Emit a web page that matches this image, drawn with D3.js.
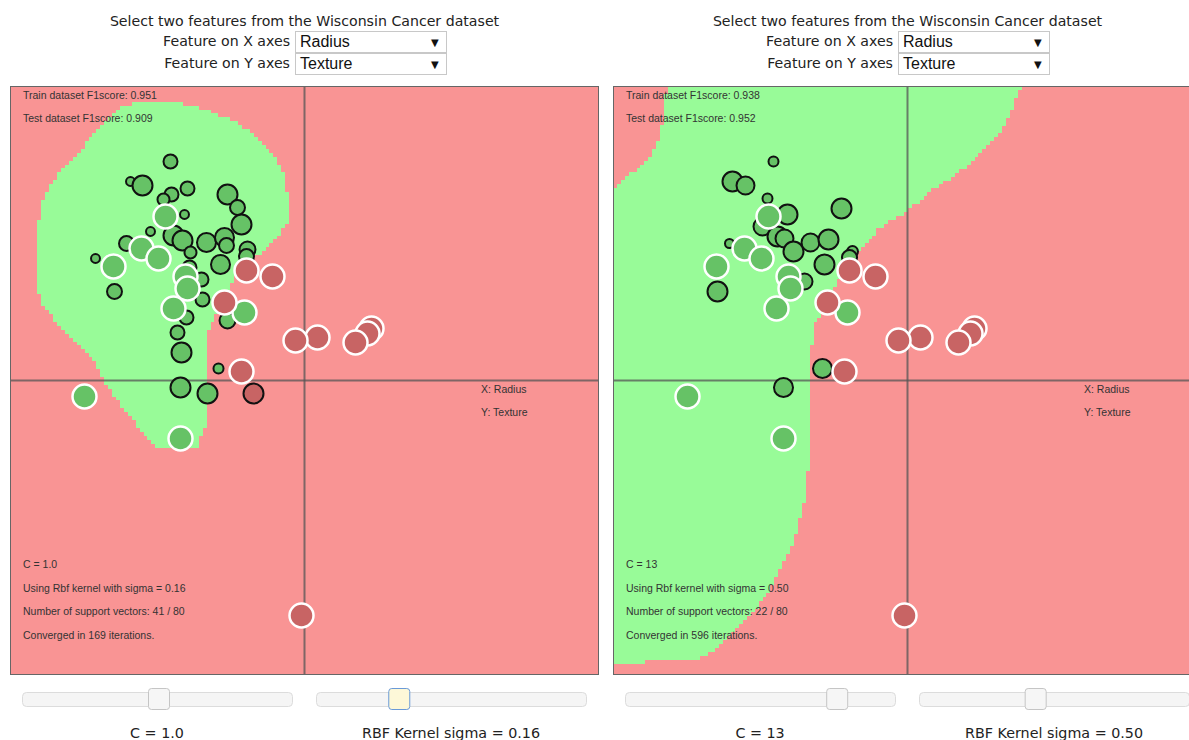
<!DOCTYPE html>
<html><head><meta charset="utf-8">
<script src="https://cdn.jsdelivr.net/npm/d3@7"></script>
<style>
html,body{margin:0;padding:0;background:#fff;}
svg{display:block;}
</style></head>
<body>
<svg id="chart" width="1189" height="740"></svg>
<script>
// ---------------- DATA ----------------
const features = ["Radius", "Texture"];
const headerText = "Select two features from the Wisconsin Cancer dataset";

// test points (shared by both panels): standardized feature values
const testX = [-1.39,-1.63,-1.46,-1.91,-1.19,-1.17,-1.31,-0.60,-2.20,-1.24,
               -0.58,-0.32,-0.80,-0.63, 0.13,-0.09, 0.67, 0.63, 0.51,-0.03];
const testY = [ 1.64, 1.32, 1.22, 1.14, 1.04, 0.92, 0.72, 0.68,-0.16,-0.58,
                1.10, 1.04, 0.78, 0.09, 0.43, 0.40, 0.52, 0.47, 0.38,-2.35];
const testClass = ["B","B","B","B","B","B","B","B","B","B",
                   "M","M","M","M","M","M","M","M","M","M"];

// panel 1 : C = 1.0, sigma = 0.16 — support vectors
const sv1X = [-1.34,-1.74,-1.62,-1.17,-1.33,-1.41,-0.77,-0.67,-1.20,-0.63,-1.54,-1.31,-1.22,-1.78,-0.98,-0.80,-0.78,-0.57,-0.58,-1.14,-2.09,-0.84,-1.90,-1.03,-1.15,-1.02,-1.18,-1.38,-0.77,-1.27,-1.23,-1.24,-0.97,-0.86,-0.51];
const sv1Y = [ 2.19, 1.99, 1.95, 1.92, 1.86, 1.81, 1.86, 1.73, 1.66, 1.56, 1.49, 1.45, 1.40, 1.37, 1.38, 1.43, 1.35, 1.31, 1.24, 1.28, 1.22, 1.16, 0.89, 1.01, 1.13, 0.81, 0.63, 0.74, 0.60, 0.48, 0.28,-0.07,-0.13, 0.12,-0.13];
const sv1Alpha = [0.57,0.21,1.00,0.57,0.57,0.43,1.00,0.64,0.21,1.00,0.21,1.00,1.00,0.64,0.93,0.93,0.64,0.71,0.64,0.43,0.21,0.93,0.64,0.57,0.57,0.57,0.57,0.21,0.71,0.57,1.00,1.00,1.00,0.29,1.00];
const sv1Class = ["B","B","B","B","B","B","B","B","B","B","B","B","B","B","B","B","B","B","B","B","B","B","B","B","B","B","B","B","B","B","B","B","B","B","M"];

// panel 2 : C = 13, sigma = 0.50 — support vectors
const sv2X = [-1.34,-1.75,-1.62,-1.40,-1.20,-0.66,-1.45,-1.30,-1.23,-1.78,-1.14,-0.97,-0.79,-0.55,-0.58,-0.83,-1.90,-1.03,-0.85,-1.24];
const sv2Y = [ 2.19, 1.99, 1.95, 1.82, 1.66, 1.72, 1.54, 1.44, 1.42, 1.37, 1.29, 1.38, 1.41, 1.29, 1.23, 1.16, 0.89, 0.99, 0.12,-0.07];
const sv2Alpha = [3.7,13,11.1,3.7,13,13,11.1,13,11.1,2.8,13,11.1,13,4.6,8.4,13,13,9.3,12.1,12.1];
const sv2Class = ["B","B","B","B","B","B","B","B","B","B","B","B","B","B","B","B","B","B","B","B"];

// decision region (class B area) outlines
const region1X = [-1.65,-1.35,-1.05,-0.75,-0.50,-0.30,-0.18,-0.17,-0.30,-0.47,-0.63,-0.73,-0.83,-0.95,-0.99,-1.00,-1.05,-1.07,-1.48,-1.55,-1.80,-1.98,-2.08,-2.20,-2.45,-2.63,-2.68,-2.68,-2.63,-2.50,-2.33,-2.15,-1.95,-1.80];
const region1Y = [ 2.80, 2.80, 2.73, 2.61, 2.46, 2.26, 2.03, 1.59, 1.41, 1.25, 1.16, 0.96, 0.76, 0.56, 0.46,-0.45,-0.55,-0.67,-0.67,-0.60,-0.30,-0.03, 0.16, 0.31, 0.56, 0.76, 1.01, 1.41, 1.76, 2.01, 2.21, 2.41, 2.63, 2.75];
const region2X = [-2.40, 1.16, 1.06, 0.93, 0.76, 0.60, 0.43, 0.23, 0.03,-0.08,-0.28,-0.48,-0.63,-0.78,-0.93,-0.96,-1.00,-1.00,-1.05,-1.18,-1.38,-1.63,-1.88,-2.08,-2.88,-3.00,-3.00,-2.75,-2.58,-2.48,-2.43];
const region2Y = [ 3.00, 3.00, 2.76, 2.49, 2.33, 2.16, 2.03, 1.89, 1.73, 1.65, 1.53, 1.31, 1.13, 0.84, 0.56, 0.36, 0.31,-0.90,-1.30,-1.70,-2.10,-2.40,-2.65,-2.78,-2.82,-2.82, 1.86, 2.08, 2.23, 2.41, 2.71];

const panelParams = [
  {C: 1.0, Clabel: "1.0", sigma: 0.16, sigmaLabel: "0.16", train: "0.951", test: "0.909", nsv: 41, total: 80, iters: 169},
  {C: 13, Clabel: "13", sigma: 0.50, sigmaLabel: "0.50", train: "0.938", test: "0.952", nsv: 22, total: 80, iters: 596}
];

// ---------------- DRAW ----------------
const svg = d3.select("#chart");
const size = 589;
const dom = [-2.945, 2.945];
const x = d3.scaleLinear().domain(dom).range([0, size]);
const y = d3.scaleLinear().domain(dom).range([size, 0]);
const colBg = {B: "#98fb98", M: "#f99494"};
const colPt = {B: "#66c266", M: "#c86464"};

const regions = [d3.zip(region1X, region1Y), d3.zip(region2X, region2Y)];
const svs = [
  d3.zip(sv1X, sv1Y, sv1Alpha, sv1Class),
  d3.zip(sv2X, sv2Y, sv2Alpha, sv2Class)
];
const tests = d3.zip(testX, testY, testClass);
const sliderScale = d3.scaleLog().domain([0.01, 100]).range([0, 1]);

const panelLeft = [10, 613];
const N = 150;
const step = (dom[1] - dom[0]) / N;

panelLeft.forEach((px, pi) => {
  const P = panelParams[pi];
  const cx = px + size / 2;

  // header
  const h = svg.append("g").attr("font-family", "'DejaVu Sans', Verdana, sans-serif").attr("fill", "#222");
  h.append("text").attr("x", cx).attr("y", 26).attr("text-anchor", "middle").attr("font-size", 14.15).text(headerText);
  ["X", "Y"].forEach((ax, k) => {
    const yy = 31 + k * 22;
    h.append("text").attr("x", px + 280).attr("y", yy + 15).attr("text-anchor", "end").attr("font-size", 14.15).text(`Feature on ${ax} axes`);
    h.append("rect").attr("x", px + 285.5).attr("y", yy + 0.5).attr("width", 151).attr("height", 21)
      .attr("fill", "#fff").attr("stroke", "#c8c8c8");
    h.append("text").attr("x", px + 290).attr("y", yy + 16).attr("font-family", "'Liberation Sans', Arial, sans-serif")
      .attr("font-size", 16).attr("fill", "#111").text(features[k]);
    h.append("text").attr("x", px + 421).attr("y", yy + 15).attr("font-size", 10).attr("fill", "#111").text("▼");
  });

  const clipId = "clip" + pi;
  svg.append("clipPath").attr("id", clipId).append("rect").attr("width", size).attr("height", size);
  const g = svg.append("g").attr("transform", `translate(${px},86)`);
  const inner = g.append("g").attr("clip-path", `url(#${clipId})`);

  inner.append("rect").attr("width", size).attr("height", size).attr("fill", colBg.M);

  // rasterized decision region
  const poly = regions[pi];
  const runs = [];
  for (let j = 0; j < N; j++) {
    const yTop = dom[1] - j * step, yc = yTop - step / 2;
    let start = null;
    for (let i = 0; i <= N; i++) {
      const xc = dom[0] + (i + 0.5) * step;
      const inside = i < N && d3.polygonContains(poly, [xc, yc]);
      if (inside && start === null) start = i;
      if (!inside && start !== null) {
        runs.push({x0: dom[0] + start * step, x1: dom[0] + i * step, y0: yTop, y1: yTop - step});
        start = null;
      }
    }
  }
  inner.selectAll("rect.cell").data(runs).join("rect").attr("class", "cell")
    .attr("x", d => x(d.x0)).attr("y", d => y(d.y0))
    .attr("width", d => x(d.x1) - x(d.x0) + 0.3).attr("height", d => y(d.y1) - y(d.y0) + 0.3)
    .attr("fill", colBg.B).attr("shape-rendering", "crispEdges");

  // axis lines
  inner.append("line").attr("x1", x(0)).attr("x2", x(0)).attr("y1", 0).attr("y2", size)
    .attr("stroke", "#555").attr("stroke-opacity", 0.75).attr("stroke-width", 2);
  inner.append("line").attr("x1", 0).attr("x2", size).attr("y1", y(0)).attr("y2", y(0))
    .attr("stroke", "#555").attr("stroke-opacity", 0.75).attr("stroke-width", 2);

  // support vectors
  const r = d3.scaleLinear().domain([0, P.C]).range([3, 10]);
  inner.selectAll("circle.sv").data(svs[pi]).join("circle").attr("class", "sv")
    .attr("cx", d => x(d[0])).attr("cy", d => y(d[1])).attr("r", d => r(d[2]))
    .attr("fill", d => colPt[d[3]]).attr("stroke", "#111").attr("stroke-width", 2);

  // test points
  inner.selectAll("circle.test").data(tests).join("circle").attr("class", "test")
    .attr("cx", d => x(d[0])).attr("cy", d => y(d[1])).attr("r", 12)
    .attr("fill", d => colPt[d[2]]).attr("stroke", "#fff").attr("stroke-width", 2.5);

  // annotations
  const t = inner.append("g").attr("font-family", "'Liberation Sans', Arial, sans-serif").attr("font-size", 10.5).attr("fill", "#333");
  t.append("text").attr("x", 13).attr("y", 13).text(`Train dataset F1score: ${P.train}`);
  t.append("text").attr("x", 13).attr("y", 36).text(`Test dataset F1score: ${P.test}`);
  t.append("text").attr("x", 471).attr("y", 307).text(`X: ${features[0]}`);
  t.append("text").attr("x", 471).attr("y", 330).text(`Y: ${features[1]}`);
  t.append("text").attr("x", 13).attr("y", 482).text(`C = ${P.Clabel}`);
  t.append("text").attr("x", 13).attr("y", 506).text(`Using Rbf kernel with sigma = ${P.sigmaLabel}`);
  t.append("text").attr("x", 13).attr("y", 529).text(`Number of support vectors: ${P.nsv} / ${P.total}`);
  t.append("text").attr("x", 13).attr("y", 553).text(`Converged in ${P.iters} iterations.`);

  g.append("rect").attr("x", 0.5).attr("y", 0.5).attr("width", size - 1).attr("height", size - 1)
    .attr("fill", "none").attr("stroke", "#666");

  // sliders
  const sliders = [
    {v: P.C, label: `C = ${P.Clabel}`, active: false},
    {v: P.sigma, label: `RBF Kernel sigma = ${P.sigmaLabel}`, active: pi === 0}
  ];
  sliders.forEach((s, k) => {
    const tx = px + 12 + k * 294, tw = 270;
    const sg = svg.append("g");
    sg.append("rect").attr("x", tx + 0.5).attr("y", 692.5).attr("width", tw).attr("height", 14).attr("rx", 4)
      .attr("fill", "#f5f5f5").attr("stroke", "#dcdcdc");
    const hx = tx + 2 + sliderScale(s.v) * tw;
    sg.append("rect").attr("x", hx - 10.5).attr("y", 688.5).attr("width", 21).attr("height", 21).attr("rx", 3)
      .attr("fill", s.active ? "#fdf8d8" : "#f6f6f6").attr("stroke", s.active ? "#6a9ad8" : "#c5c5c5");
    sg.append("text").attr("x", tx + tw / 2).attr("y", 738).attr("text-anchor", "middle")
      .attr("font-family", "'DejaVu Sans', Verdana, sans-serif").attr("font-size", 14.3).attr("fill", "#222").text(s.label);
  });
});
</script>
</body></html>
